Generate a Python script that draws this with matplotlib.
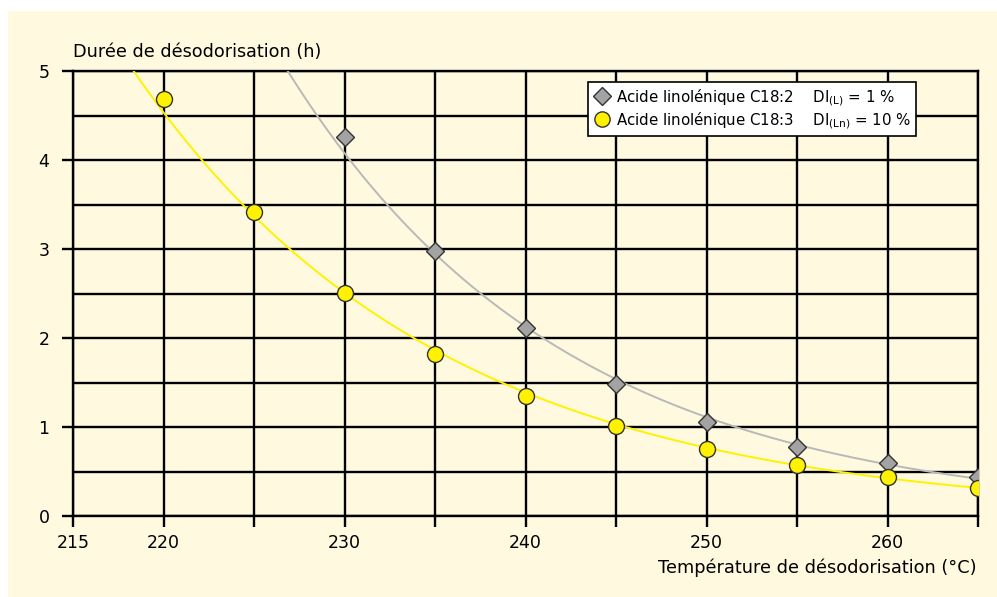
import numpy as np
import matplotlib
matplotlib.use("Agg")
import matplotlib.pyplot as plt
from matplotlib.lines import Line2D
from matplotlib.patches import Rectangle

plt.rcParams['font.family'] = ['DejaVu Sans']

# data
temp_c182 = [230, 235, 240, 245, 250, 255, 260, 265]
duree_c182 = [4.26, 2.98, 2.11, 1.48, 1.06, 0.78, 0.59, 0.44]
temp_c183 = [220, 225, 230, 235, 240, 245, 250, 255, 260, 265]
duree_c183 = [4.68, 3.42, 2.51, 1.82, 1.35, 1.01, 0.75, 0.57, 0.44, 0.32]

label_c182 = "Acide linolénique C18:2    DI$_\\mathregular{(L)}$ = 1 %"
label_c183 = "Acide linolénique C18:3    DI$_\\mathregular{(Ln)}$ = 10 %"
xticks = list(range(215, 270, 5))
xticklabels = ["215", "220", "", "230", "", "240", "", "250", "", "260", ""]
yticks = [0, 1, 2, 3, 4, 5]

cream = '#FEF9DF'
grey_line = '#B9B9B9'
grey_mk = '#A3A3A3'
yellow = '#FFF200'

fig = plt.figure(figsize=(9.97, 5.97), dpi=100, facecolor='white')
fig.patches.append(Rectangle((8/997, 0), 1, 1 - 11/597, transform=fig.transFigure,
                             facecolor=cream, edgecolor='none', zorder=-10))
ax = fig.add_axes([73/997, 1 - 516/597, (978 - 73)/997, (516 - 71)/597])
ax.set_facecolor(cream)

# exponential trend lines (fit of the points)
xs = np.linspace(215, 265, 400)
for t, d, c in [(temp_c182, duree_c182, grey_line), (temp_c183, duree_c183, yellow)]:
    p = np.polyfit(t, np.log(d), 1)
    xx = xs[xs <= max(t)]
    ax.plot(xx, np.exp(np.polyval(p, xx)), c=c, lw=1.4, zorder=3)

ax.plot(temp_c182, duree_c182, ls='', marker='D', ms=9, mfc=grey_mk, mec='#333333', mew=1, zorder=5)
ax.plot(temp_c183, duree_c183, ls='', marker='o', ms=11.5, mfc=yellow, mec='#333333', mew=1, zorder=5)

ax.set_xlim(215, 265)
ax.set_ylim(0, 5)
ax.set_xticks(xticks)
ax.set_xticklabels(xticklabels)
ax.set_yticks(yticks)
ax.set_yticks(np.arange(0.5, 5, 1.0), minor=True)
ax.tick_params(axis='x', length=8, width=1.7, pad=5, labelsize=12.5)
ax.tick_params(axis='y', which='major', length=8, width=1.7, pad=9, labelsize=12.5)
ax.tick_params(axis='y', which='minor', length=0)
ax.grid(True, which='both', color='black', lw=1.7, zorder=1)
ax.set_axisbelow(True)
for s in ['top', 'right']:
    ax.spines[s].set_visible(False)
for s in ['left', 'bottom']:
    ax.spines[s].set_linewidth(1.7)
ax.axhline(5, color='black', lw=1.7, zorder=1, clip_on=False)
ax.axvline(265, color='black', lw=1.7, zorder=1, clip_on=False)

handles = [Line2D([], [], ls='', marker='D', ms=9, mfc=grey_mk, mec='#333333'),
           Line2D([], [], ls='', marker='o', ms=11, mfc=yellow, mec='#333333')]
leg = ax.legend(handles, [label_c182, label_c183], loc='upper left',
                bbox_to_anchor=((588 - 73)/905, (516 - 82)/445), borderaxespad=0,
                fancybox=False, framealpha=1, edgecolor='black', fontsize=10.8,
                handletextpad=0.4, labelspacing=0.15, borderpad=0.35, handlelength=1.1)
leg.get_frame().set_linewidth(1.2)
leg.set_zorder(10)

fig.text(73/997, 1 - 52/597, "Durée de désodorisation (h)", fontsize=12.7, va='center', ha='left')
fig.text(977/997, 1 - 568/597, "Température de désodorisation (°C)", fontsize=12.8, va='center', ha='right')

fig.savefig("out.png", dpi=100, facecolor=fig.get_facecolor())
